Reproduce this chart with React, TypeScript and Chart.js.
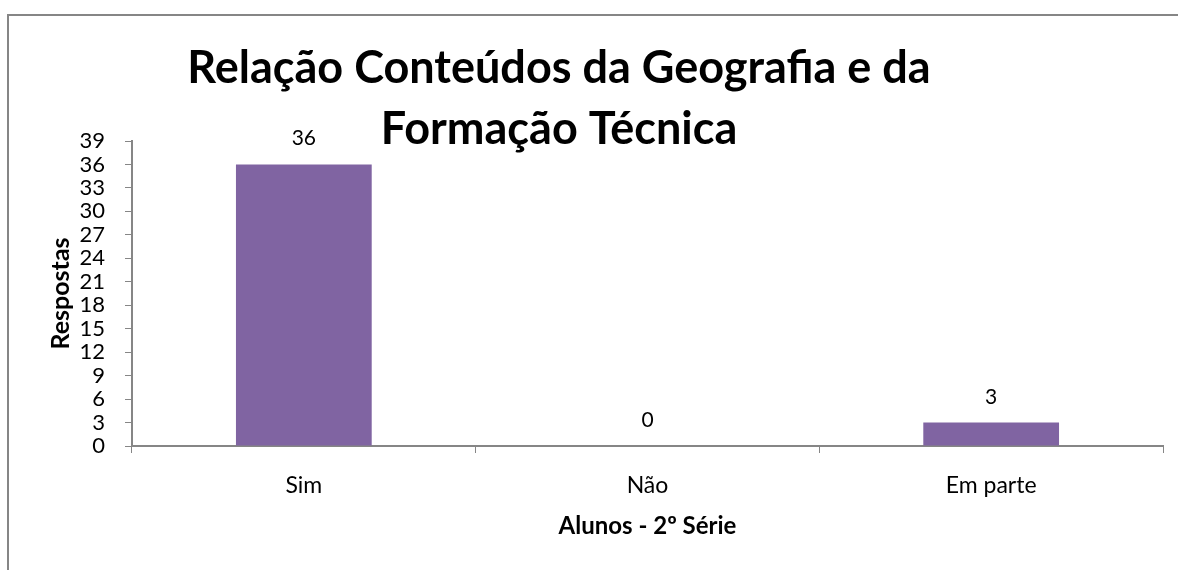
import React, { useEffect, useRef } from "react";
import { Chart, registerables } from "chart.js";

Chart.register(...registerables);

const categories: string[] = ["Sim", "Não", "Em parte"];
const respostas: number[] = [36, 0, 3];
const titleLines: string[] = ["Relação Conteúdos da Geografia e da", "Formação Técnica"];
const yAxisTitle = "Respostas";
const xAxisTitle = "Alunos - 2º Série";
const yMin = 0;
const yMax = 39;
const yStep = 3;

const BAR_COLOR = "#8064A2";
const AXIS_COLOR = "#868686";
const FONT = "Lato, 'Open Sans', sans-serif";

const framePlugin = {
  id: "frame",
  beforeDraw(chart: any) {
    const ctx = chart.ctx;
    ctx.save();
    ctx.fillStyle = "#ffffff";
    ctx.fillRect(0, 0, chart.width, chart.height);
    ctx.strokeStyle = AXIS_COLOR;
    ctx.lineWidth = 2;
    ctx.beginPath();
    ctx.moveTo(7, 15);
    ctx.lineTo(chart.width, 15);
    ctx.moveTo(8, 14);
    ctx.lineTo(8, chart.height);
    ctx.stroke();
    ctx.restore();
  },
};

const titlePlugin = {
  id: "overlayTitle",
  afterDraw(chart: any) {
    const ctx = chart.ctx;
    ctx.save();
    ctx.fillStyle = "#000000";
    ctx.font = `bold 45px ${FONT}`;
    ctx.textAlign = "center";
    ctx.textBaseline = "alphabetic";
    ctx.fillText(titleLines[0], 559, 83);
    ctx.fillText(titleLines[1], 559, 144);
    ctx.restore();
  },
};

const valueLabelPlugin = {
  id: "valueLabels",
  afterDatasetsDraw(chart: any) {
    const ctx = chart.ctx;
    const meta = chart.getDatasetMeta(0);
    const ds = chart.data.datasets[0];
    ctx.save();
    ctx.fillStyle = "#000000";
    ctx.font = `21px ${FONT}`;
    ctx.textAlign = "center";
    ctx.textBaseline = "alphabetic";
    meta.data.forEach((bar: any, i: number) => {
      ctx.fillText(String(ds.data[i]), bar.x, bar.y - 19);
    });
    ctx.restore();
  },
};

export default function App() {
  const canvasRef = useRef<HTMLCanvasElement | null>(null);

  useEffect(() => {
    if (!canvasRef.current) return;
    const chart = new Chart(canvasRef.current, {
      type: "bar",
      data: {
        labels: categories,
        datasets: [
          {
            label: "Respostas",
            data: respostas,
            backgroundColor: BAR_COLOR,
            borderWidth: 0,
            categoryPercentage: 1,
            barPercentage: 0.395,
          },
        ],
      },
      options: {
        animation: false,
        responsive: false,
        devicePixelRatio: 1,
        layout: { padding: { top: 141, right: 15, left: 0, bottom: 0 } },
        plugins: {
          legend: { display: false },
          title: { display: false },
          tooltip: { enabled: false },
        },
        scales: {
          x: {
            grid: {
              display: true,
              drawOnChartArea: false,
              drawTicks: true,
              tickLength: 7,
              color: AXIS_COLOR,
              lineWidth: 1,
              offset: true,
            },
            border: { display: true, color: AXIS_COLOR, width: 2 },
            ticks: {
              color: "#000000",
              font: { family: FONT, size: 23 },
              padding: 19,
              maxRotation: 0,
            },
            title: {
              display: true,
              text: xAxisTitle,
              color: "#000000",
              font: { family: FONT, size: 24, weight: "bold" },
              padding: { top: 0, bottom: 29 },
            },
            afterFit(scale: any) {
              scale.height = 124;
            },
          },
          y: {
            min: yMin,
            max: yMax,
            grid: {
              display: true,
              drawOnChartArea: false,
              drawTicks: true,
              tickLength: 7,
              color: AXIS_COLOR,
              lineWidth: 1,
            },
            border: { display: true, color: AXIS_COLOR, width: 2 },
            ticks: {
              stepSize: yStep,
              autoSkip: false,
              color: "#000000",
              font: { family: FONT, size: 22, lineHeight: 1 },
              padding: 20,
            },
            title: {
              display: true,
              text: yAxisTitle,
              color: "#000000",
              font: { family: FONT, size: 25, weight: "bold" },
              padding: { top: 46, bottom: 0 },
            },
            afterFit(scale: any) {
              scale.width = 132;
            },
          },
        },
      },
      plugins: [framePlugin, valueLabelPlugin, titlePlugin],
    });
    return () => chart.destroy();
  }, []);

  return (
    <div style={{ position: "absolute", left: 0, top: 0, width: 1178, height: 570, background: "#fff" }}>
      <canvas ref={canvasRef} width={1178} height={570} style={{ display: "block" }} />
    </div>
  );
}
